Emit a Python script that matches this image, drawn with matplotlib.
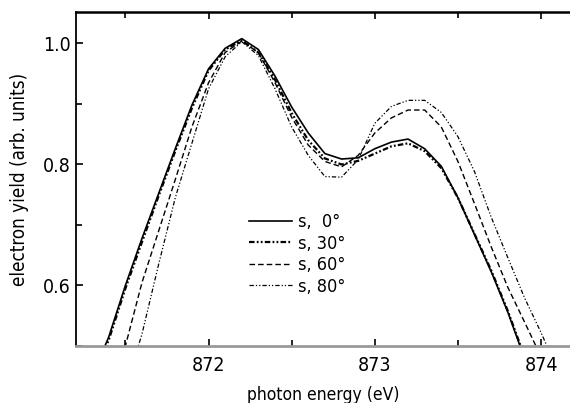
import matplotlib.pyplot as plt
import numpy as np
from matplotlib.ticker import MultipleLocator

################################################################################
# data

energy = [871.3, 871.4, 871.5, 871.6, 871.7, 871.8, 871.9, 872.0, 872.1, 872.2,
          872.3, 872.4, 872.5, 872.6, 872.7, 872.8, 872.9, 873.0, 873.1, 873.2,
          873.3, 873.4, 873.5, 873.6, 873.7, 873.8, 873.9, 874.0, 874.1]

yield_s0 = [0.450, 0.515, 0.600, 0.678, 0.752, 0.826, 0.898, 0.958, 0.992, 1.008,
            0.990, 0.946, 0.895, 0.852, 0.818, 0.809, 0.811, 0.826, 0.837, 0.842,
            0.826, 0.797, 0.745, 0.684, 0.623, 0.556, 0.480, 0.410, 0.340]

yield_s30 = [0.445, 0.510, 0.595, 0.672, 0.748, 0.822, 0.893, 0.955, 0.990, 1.005,
             0.985, 0.940, 0.885, 0.840, 0.810, 0.800, 0.806, 0.818, 0.830, 0.835,
             0.822, 0.794, 0.745, 0.685, 0.625, 0.558, 0.483, 0.410, 0.340]

yield_s60 = [0.360, 0.430, 0.500, 0.605, 0.690, 0.775, 0.862, 0.935, 0.985, 1.004,
             0.985, 0.935, 0.878, 0.832, 0.805, 0.796, 0.815, 0.852, 0.877, 0.890,
             0.890, 0.862, 0.805, 0.735, 0.664, 0.597, 0.540, 0.482, 0.420]

yield_s80 = [0.300, 0.360, 0.430, 0.520, 0.635, 0.745, 0.835, 0.925, 0.978, 1.003,
             0.980, 0.925, 0.862, 0.815, 0.780, 0.779, 0.808, 0.868, 0.896, 0.906,
             0.906, 0.886, 0.846, 0.788, 0.713, 0.646, 0.580, 0.522, 0.460]

seriesLabels = ['s,  0\u00b0', 's, 30\u00b0', 's, 60\u00b0', 's, 80\u00b0']

################################################################################

plt.rcParams['font.family'] = ['DejaVu Sans']
plt.rcParams['font.stretch'] = 'condensed'

fig = plt.figure(figsize=(5.70, 4.03), dpi=100)
ax = fig.add_axes([76/570, 1 - 346/403, 1 - 76/570, (346 - 12)/403])

ax.plot(energy, yield_s0, color='black', lw=1.2, ls='-', label=seriesLabels[0])
ax.plot(energy, yield_s30, color='black', lw=1.6,
        ls=(0, (2.5, 1, 0.8, 1, 0.8, 1)), label=seriesLabels[1])
ax.plot(energy, yield_s60, color='black', lw=1.0,
        ls=(0, (4, 2.2)), label=seriesLabels[2])
ax.plot(energy, yield_s80, color='black', lw=0.9,
        ls=(0, (3.5, 1.6, 1, 1.6, 1, 1.6)), label=seriesLabels[3])

ax.set_xlim(871.203, 874.174)
ax.set_ylim(0.5, 1.052)

ax.xaxis.set_major_locator(MultipleLocator(1))
ax.xaxis.set_minor_locator(MultipleLocator(0.5))
ax.yaxis.set_major_locator(MultipleLocator(0.2))
ax.yaxis.set_minor_locator(MultipleLocator(0.1))
ax.tick_params(which='both', direction='in', top=True, right=False,
               labelsize=14, width=1.2, color='black')
ax.tick_params(which='major', length=5)
ax.tick_params(which='minor', length=4)
ax.tick_params(axis='x', pad=7)
ax.tick_params(axis='y', pad=4)

ax.spines['right'].set_visible(False)
ax.spines['top'].set_linewidth(1.8)
ax.spines['left'].set_linewidth(1.3)
ax.spines['bottom'].set_color('#999999')
ax.spines['bottom'].set_linewidth(2.0)

ax.set_xlabel('photon energy (eV)', fontsize=12.5, labelpad=8)
ax.set_ylabel('electron yield (arb. units)', fontsize=13.5, labelpad=10)

ax.legend(loc='upper left', bbox_to_anchor=(0.335, 0.42), frameon=False,
          fontsize=13, handlelength=2.4, handletextpad=0.35,
          labelspacing=0.2, borderaxespad=0)

fig.savefig('out.png', dpi=100)
